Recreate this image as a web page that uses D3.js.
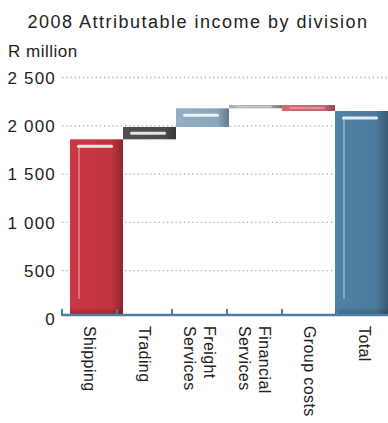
<!DOCTYPE html>
<html>
<head>
<meta charset="utf-8">
<script src="https://cdn.jsdelivr.net/npm/d3@7"></script>
<style>
  body { margin: 0; background: #fff; }
  text { font-family: "Liberation Sans", Arial, Helvetica, sans-serif; fill: #222; }
</style>
</head>
<body>
<div id="chart"></div>
<script>
var categories = ['Shipping', 'Trading', 'Freight Services', 'Financial Services', 'Group costs', 'Total'];
var labelLines = [['Shipping'], ['Trading'], ['Freight', 'Services'], ['Financial', 'Services'], ['Group costs'], ['Total']];
var deltas = [1860, 128, 193, 34, -62];
var yTicks = [0, 500, 1000, 1500, 2000, 2500];
var colors = ['#c1343f', '#4b4b4d', '#8ba6bb', '#a3a3a5', '#c9636c', '#4b7b9d'];

var width = 388, height = 423;

// build waterfall steps
var steps = [];
var run = 0;
deltas.forEach(function(d, i){
    steps.push({name: categories[i], start: run, end: run + d, color: colors[i]});
    run += d;
});
steps.push({name: categories[5], start: 0, end: run, color: colors[5]});

var svg = d3.select('#chart').append('svg')
    .attr('width', width)
    .attr('height', height);

var y = d3.scaleLinear().domain([0, 2500]).range([319, 77.5]);
var x = d3.scaleBand().domain(categories).range([70, 388]);
var xAxis = d3.scaleBand().domain(categories).range([62, 392]);
var axisY = y(0) - 4;

var fmt = d3.formatLocale({decimal: '.', thousands: ' ', grouping: [3], currency: ['', '']}).format(',');

var defs = svg.append('defs');
steps.forEach(function(s, i){
    var c = d3.color(s.color);
    var g = defs.append('linearGradient').attr('id', 'g' + i)
        .attr('x1', 0).attr('x2', 1).attr('y1', 0).attr('y2', 0);
    g.append('stop').attr('offset', '0%').attr('stop-color', c.brighter(0.15));
    g.append('stop').attr('offset', '78%').attr('stop-color', c);
    g.append('stop').attr('offset', '100%').attr('stop-color', c.darker(0.9));
});
var vg = defs.append('linearGradient').attr('id', 'shade')
    .attr('x1', 0).attr('x2', 0).attr('y1', 0).attr('y2', 1);
vg.append('stop').attr('offset', '0%').attr('stop-color', '#000').attr('stop-opacity', 0);
vg.append('stop').attr('offset', '100%').attr('stop-color', '#000').attr('stop-opacity', 0.22);
defs.append('filter').attr('id', 'blur')
    .attr('filterUnits', 'userSpaceOnUse')
    .attr('x', 0).attr('y', 0).attr('width', width).attr('height', height)
    .append('feGaussianBlur').attr('stdDeviation', 0.7);

// title
svg.append('text')
    .attr('x', 198).attr('y', 28)
    .attr('text-anchor', 'middle')
    .style('font-size', '18px')
    .style('letter-spacing', '1.5px')
    .text('2008 Attributable income by division');

svg.append('text')
    .attr('x', 8).attr('y', 57)
    .style('font-size', '17px')
    .style('letter-spacing', '0.5px')
    .text('R million');

// gridlines
svg.append('g').selectAll('line')
    .data(yTicks.slice(1))
    .enter().append('line')
    .attr('x1', 62).attr('x2', width)
    .attr('y1', function(d){ return y(d); })
    .attr('y2', function(d){ return y(d); })
    .attr('stroke', '#8fb0cc')
    .attr('stroke-width', 1.3)
    .attr('stroke-dasharray', '1.3,2.9');

// y tick labels
svg.append('g').selectAll('text')
    .data(yTicks)
    .enter().append('text')
    .attr('x', 56)
    .attr('y', function(d){ return y(d); })
    .attr('dy', '0.36em')
    .attr('text-anchor', 'end')
    .style('font-size', '17px')
    .style('letter-spacing', '1.2px')
    .text(function(d){ return fmt(d); });

// bars
var bars = svg.append('g').selectAll('g')
    .data(steps)
    .enter().append('g');

function barTop(d){ return y(Math.max(d.start, d.end)); }
function barBottom(d){ return Math.min(y(Math.min(d.start, d.end)), axisY); }
function barH(d){ return barBottom(d) - barTop(d); }

bars.append('rect')
    .attr('x', function(d){ return x(d.name); })
    .attr('y', barTop)
    .attr('width', x.bandwidth())
    .attr('height', barH)
    .attr('fill', function(d, i){ return 'url(#g' + i + ')'; });

// bottom shading on tall bars
bars.filter(function(d){ return barH(d) > 40; })
    .append('rect')
    .attr('x', function(d){ return x(d.name); })
    .attr('y', function(d){ return barBottom(d) - 8; })
    .attr('width', x.bandwidth())
    .attr('height', 8)
    .attr('fill', 'url(#shade)');

// gloss highlights
bars.append('rect')
    .attr('x', function(d){ return x(d.name) + 7; })
    .attr('width', 36)
    .attr('y', function(d){ return barTop(d) + Math.min(7, barH(d) / 2) - (barH(d) > 8 ? 1.5 : 0.8); })
    .attr('height', function(d){ return barH(d) > 8 ? 3 : 1.6; })
    .attr('rx', 1.5)
    .attr('fill', '#fff')
    .attr('fill-opacity', function(d){ return barH(d) > 8 ? 0.85 : 0.4; })
    .attr('filter', 'url(#blur)');

bars.filter(function(d){ return barH(d) > 40; })
    .append('rect')
    .attr('x', function(d){ return x(d.name) + 8; })
    .attr('width', 2)
    .attr('y', function(d){ return barTop(d) + 8; })
    .attr('height', function(d){ return barH(d) - 24; })
    .attr('fill', '#fff')
    .attr('fill-opacity', 0.3)
    .attr('filter', 'url(#blur)');

// x axis
var axis = svg.append('g');
axis.append('line')
    .attr('x1', 61).attr('x2', width)
    .attr('y1', axisY).attr('y2', axisY)
    .attr('stroke', '#4d7ea2')
    .attr('stroke-width', 2.5);
axis.selectAll('.tick')
    .data(categories)
    .enter().append('line')
    .attr('x1', function(d){ return xAxis(d); })
    .attr('x2', function(d){ return xAxis(d); })
    .attr('y1', axisY)
    .attr('y2', axisY - 6)
    .attr('stroke', '#4d7ea2')
    .attr('stroke-width', 2);

// x labels, rotated
var labels = svg.append('g').selectAll('text')
    .data(categories)
    .enter().append('text')
    .attr('transform', function(d){
        return 'translate(' + (xAxis(d) + xAxis.bandwidth() / 2) + ',' + (axisY + 11) + ') rotate(90)';
    })
    .style('font-size', '16px')
    .style('letter-spacing', '0.4px');

labels.each(function(d, i){
    var lines = labelLines[i];
    var t = d3.select(this);
    lines.forEach(function(l, j){
        t.append('tspan')
            .attr('x', 0)
            .attr('y', 0)
            .attr('dy', (0.35 + (j - (lines.length - 1) / 2) * 1.25) + 'em')
            .text(l);
    });
});
</script>
</body>
</html>
